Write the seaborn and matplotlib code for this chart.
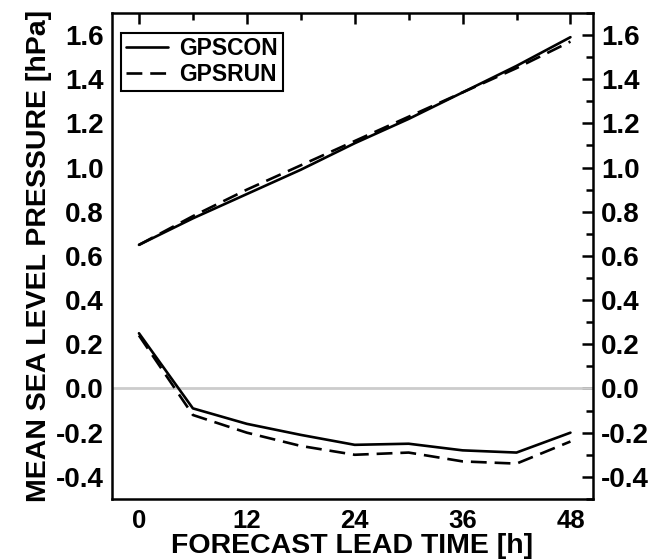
import numpy as np
import pandas as pd
import matplotlib
matplotlib.use("Agg")
import matplotlib.pyplot as plt
import seaborn as sns
from matplotlib.ticker import MultipleLocator

lead = [0, 6, 12, 18, 24, 30, 36, 42, 48]
gpscon_upper = [0.65, 0.77, 0.88, 0.99, 1.11, 1.22, 1.34, 1.46, 1.59]
gpsrun_upper = [0.65, 0.78, 0.90, 1.01, 1.12, 1.23, 1.34, 1.45, 1.57]
gpscon_lower = [0.25, -0.09, -0.16, -0.21, -0.255, -0.25, -0.28, -0.29, -0.20]
gpsrun_lower = [0.24, -0.12, -0.20, -0.26, -0.30, -0.29, -0.33, -0.34, -0.24]
ytick_vals = [-0.4, -0.2, 0.0, 0.2, 0.4, 0.6, 0.8, 1.0, 1.2, 1.4, 1.6]
xtick_vals = [0, 12, 24, 36, 48]

rows = []
for run, up, lo in [("GPSCON", gpscon_upper, gpscon_lower),
                    ("GPSRUN", gpsrun_upper, gpsrun_lower)]:
    for t, v in zip(lead, up):
        rows.append(dict(lead=t, value=v, run=run, stat="upper"))
    for t, v in zip(lead, lo):
        rows.append(dict(lead=t, value=v, run=run, stat="lower"))
df = pd.DataFrame(rows)

sns.set_style("white")
plt.rcParams['font.family'] = ['Liberation Sans', 'DejaVu Sans']
plt.rcParams['font.weight'] = 'bold'
for k in ["text.color", "axes.labelcolor", "xtick.color", "ytick.color",
          "xtick.labelcolor", "ytick.labelcolor"]:
    plt.rcParams[k] = "black"

fig = plt.figure(figsize=(6.53, 5.60), dpi=100)
ax = fig.add_axes([0.1715, 0.109, 0.908 - 0.1715, 0.977 - 0.109])

ax.axhline(0, color="#cccccc", lw=2, zorder=1)

sns.lineplot(data=df, x="lead", y="value", style="run", units="stat",
             estimator=None, color="black", lw=1.9, ax=ax,
             dashes={"GPSCON": "", "GPSRUN": (6, 3)}, zorder=3)

ax.set_xlim(-3, 50.5)
ax.set_ylim(-0.5, 1.7)
ax.set_xticks(xtick_vals)
ax.set_xticklabels([str(v) for v in xtick_vals])
ax.xaxis.set_minor_locator(MultipleLocator(6))
ax.set_yticks(ytick_vals)
ax.set_yticklabels([f"{v:.1f}" for v in ytick_vals])
ax.yaxis.set_minor_locator(MultipleLocator(0.1))

ax.tick_params(which="both", direction="in", top=True, right=True,
               labelright=True, width=1.8, color="black")
ax.tick_params(which="major", length=8)
ax.tick_params(which="minor", length=5)
ax.tick_params(axis="y", labelsize=20, pad=6)
ax.tick_params(axis="x", labelsize=18.5, pad=7)
for lab in ax.get_yticklabels() + ax.get_xticklabels():
    lab.set_fontweight("bold")

for sp in ax.spines.values():
    sp.set_visible(True)
    sp.set_color("black")
    sp.set_linewidth(1.8)

ax.set_xlabel("FORECAST LEAD TIME [h]", fontsize=20.5, fontweight="bold",
              labelpad=0)
ax.set_ylabel("MEAN SEA LEVEL PRESSURE [hPa]", fontsize=20.5, fontweight="bold",
              labelpad=2.5)

leg = ax.legend(loc="upper left", bbox_to_anchor=(0.0187, 0.959),
                frameon=True, fancybox=False,
                edgecolor="black", prop=dict(size=16.5, weight="bold"),
                handlelength=1.85, borderaxespad=0, borderpad=0.2,
                labelspacing=0.12, handletextpad=0.5)
leg.get_frame().set_linewidth(1.5)
leg.get_frame().set_alpha(1)

fig.savefig("out.png", dpi=100)
